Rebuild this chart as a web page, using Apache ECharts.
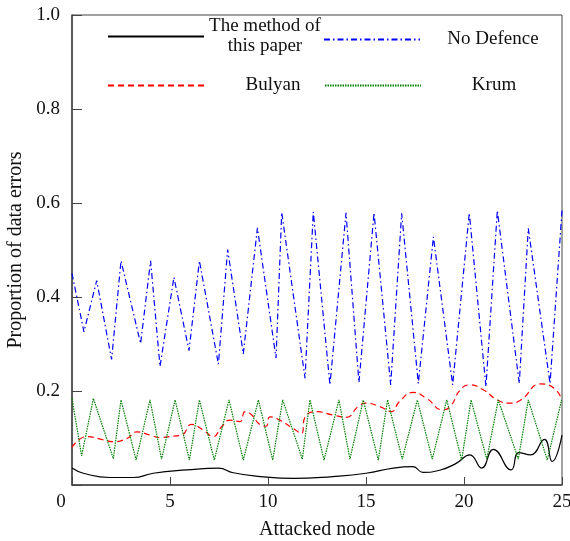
<!DOCTYPE html>
<html>
<head>
    <meta charset="utf-8">
    <title>Proportion of data errors</title>
</head>
<body style="margin:0">
    <div id="main" style="width: 570px; height: 541px;"></div>
    <script src="https://cdn.jsdelivr.net/npm/echarts@6/dist/echarts.min.js"></script>
    <script type="text/javascript">
        // series names
        var names = ['The method of this paper', 'No Defence', 'Bulyan', 'Krum'];

        // the method of this paper (black)
        var methodX = [0, 0.58, 1.94, 3.13, 4.15, 5.85, 7.47, 8.23, 9.6, 11.3, 13.3, 15.0, 16.4, 17.4, 17.9, 18.8, 19.6, 20.3, 20.9, 21.5, 22.4, 22.8, 23.4, 24.1, 24.5, 25];
        var methodY = [0.036, 0.025, 0.016, 0.016, 0.025, 0.032, 0.036, 0.026, 0.018, 0.014, 0.018, 0.025, 0.036, 0.039, 0.027, 0.032, 0.046, 0.064, 0.036, 0.076, 0.032, 0.069, 0.064, 0.097, 0.05, 0.106];

        // no defence (blue)
        var noDefX = [0, 0.61, 1.26, 2.02, 2.5, 3.5, 4.01, 4.49, 5.2, 5.97, 6.5, 7.47, 7.94, 8.74, 9.46, 10.41, 10.7, 11.89, 12.31, 13.16, 13.98, 14.64, 15.41, 16.26, 16.82, 17.67, 18.44, 19.42, 20.27, 21.12, 21.7, 22.82, 23.28, 24.39, 25];
        var noDefY = [0.45, 0.326, 0.435, 0.267, 0.477, 0.301, 0.477, 0.252, 0.442, 0.286, 0.477, 0.257, 0.501, 0.279, 0.547, 0.27, 0.58, 0.227, 0.581, 0.213, 0.579, 0.218, 0.579, 0.213, 0.578, 0.216, 0.528, 0.213, 0.579, 0.209, 0.584, 0.216, 0.546, 0.216, 0.584];

        // bulyan (red)
        var bulyanX = [0, 0.75, 1.6, 2.1, 2.8, 3.3, 4.0, 4.5, 5.17, 5.6, 6.1, 6.7, 7.2, 7.64, 8.06, 8.57, 8.83, 9.17, 9.6, 9.9, 10.1, 10.6, 11.3, 11.7, 11.9, 12.5, 13.3, 14.0, 14.6, 15.0, 15.7, 16.3, 16.7, 17.4, 18.1, 18.9, 19.3, 19.8, 20.3, 21.0, 21.7, 22.3, 22.9, 23.9, 24.6, 25];
        var bulyanY = [0.08, 0.103, 0.096, 0.092, 0.099, 0.113, 0.106, 0.101, 0.104, 0.106, 0.129, 0.117, 0.103, 0.124, 0.138, 0.135, 0.156, 0.149, 0.128, 0.125, 0.145, 0.138, 0.12, 0.11, 0.145, 0.156, 0.149, 0.144, 0.167, 0.174, 0.167, 0.156, 0.177, 0.197, 0.184, 0.16, 0.167, 0.202, 0.213, 0.202, 0.181, 0.174, 0.181, 0.215, 0.206, 0.181];

        // krum (green)
        var krumX = [0, 0.49, 1.09, 2.11, 2.5, 3.27, 3.98, 4.57, 5.26, 5.99, 6.5, 7.26, 8.01, 8.74, 9.51, 10.24, 10.75, 11.75, 12.14, 12.86, 13.62, 14.18, 14.86, 15.63, 16.1, 16.85, 17.62, 18.38, 19.12, 19.88, 20.36, 21.16, 21.75, 22.77, 23.28, 24.25, 24.98];
        var krumY = [0.184, 0.062, 0.184, 0.056, 0.181, 0.053, 0.181, 0.055, 0.181, 0.053, 0.181, 0.053, 0.181, 0.053, 0.181, 0.053, 0.181, 0.055, 0.181, 0.053, 0.181, 0.055, 0.181, 0.053, 0.181, 0.055, 0.181, 0.055, 0.181, 0.053, 0.181, 0.055, 0.181, 0.055, 0.181, 0.053, 0.181];

        function pairs(xs, ys) {
            return xs.map(function (x, i) { return [x, ys[i]]; });
        }

        var font = 'Liberation Serif';
        var axisColor = '#444';

        function legendAt(name, left, top, text, width) {
            return {
                data: [name],
                left: left,
                top: top,
                padding: 0,
                itemWidth: 96,
                itemHeight: 14,
                selectedMode: false,
                itemStyle: { opacity: 0 },
                formatter: function () {
                    return text.map(function (t) { return '{t|' + t + '}'; }).join('\n');
                },
                textStyle: {
                    fontFamily: font,
                    fontSize: 19,
                    color: '#111',
                    rich: {
                        t: { width: width, align: 'center', fontFamily: font, fontSize: 19, lineHeight: 20, color: '#111' }
                    }
                }
            };
        }

        var chart = echarts.init(document.getElementById('main'));
        var option = {
            animation: false,
            backgroundColor: '#fff',
            grid: {
                left: 72, right: 8, top: 15, bottom: 56,
                outerBoundsMode: 'none',
                containLabel: false,
                show: true, borderColor: axisColor, borderWidth: 1
            },
            legend: [
                legendAt(names[0], 107, 17, ['The method of', 'this paper'], 112),
                legendAt(names[1], 323, 30, ['No Defence'], 136),
                legendAt(names[2], 107, 76, ['Bulyan'], 128),
                legendAt(names[3], 324, 76, ['Krum'], 136)
            ],
            xAxis: {
                type: 'value',
                min: 0, max: 25, interval: 5,
                name: 'Attacked node',
                nameLocation: 'middle',
                nameGap: 35,
                nameTextStyle: { fontFamily: font, fontSize: 20, color: '#111' },
                axisLine: { lineStyle: { color: axisColor, width: 1.5 } },
                axisTick: { inside: true, length: 8, lineStyle: { color: axisColor } },
                axisLabel: {
                    fontFamily: font, fontSize: 19, color: '#111', margin: 8,
                    formatter: function (v) { return v === 0 ? '{z|0}' : String(v); },
                    rich: { z: { padding: [0, 22, 0, 0], fontFamily: font, fontSize: 19, color: '#111' } }
                },
                splitLine: { show: false }
            },
            yAxis: {
                type: 'value',
                min: 0, max: 1, interval: 0.2,
                name: 'Proportion of data errors',
                nameLocation: 'middle',
                nameGap: 46,
                nameTextStyle: { fontFamily: font, fontSize: 20, color: '#111' },
                axisLine: { show: true, lineStyle: { color: axisColor, width: 1.5 } },
                axisTick: { show: true, inside: true, length: 10, lineStyle: { color: axisColor } },
                axisLabel: {
                    fontFamily: font, fontSize: 19, color: '#111', margin: 12,
                    formatter: function (v) { return v === 0 ? '' : v.toFixed(1); }
                },
                splitLine: { show: false }
            },
            series: [
                {
                    name: names[0], type: 'line', symbol: 'none', smooth: 0.5,
                    data: pairs(methodX, methodY),
                    lineStyle: { color: '#000', width: 1.2 },
                    itemStyle: { color: '#000' }
                },
                {
                    name: names[1], type: 'line', symbol: 'none',
                    data: pairs(noDefX, noDefY),
                    lineStyle: { color: '#0000ff', width: 1.2, type: [6, 3, 1.5, 3] },
                    itemStyle: { color: '#0000ff' }
                },
                {
                    name: names[2], type: 'line', symbol: 'none', smooth: 0.5,
                    data: pairs(bulyanX, bulyanY),
                    lineStyle: { color: '#ff0000', width: 1.2, type: [6, 4] },
                    itemStyle: { color: '#ff0000' }
                },
                {
                    name: names[3], type: 'line', symbol: 'none',
                    data: pairs(krumX, krumY),
                    lineStyle: { color: '#008000', width: 1.2, type: [1.5, 1] },
                    itemStyle: { color: '#008000' }
                }
            ]
        };
        chart.setOption(option);
    </script>
</body>
</html>
